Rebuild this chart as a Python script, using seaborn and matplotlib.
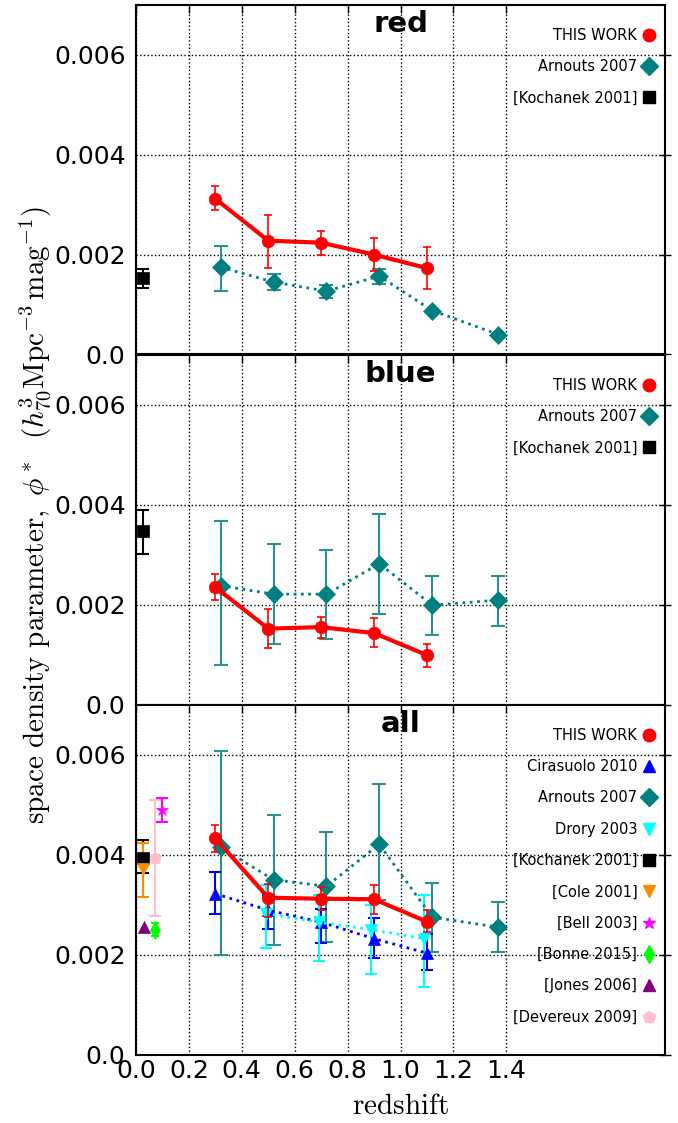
import numpy as np
import pandas as pd
import matplotlib
matplotlib.use("Agg")
import matplotlib.pyplot as plt
from matplotlib.lines import Line2D
import seaborn as sns

# ---------------- data ----------------
# THIS WORK
tw_z = [0.3, 0.5, 0.7, 0.9, 1.1]
tw_red = [0.00312, 0.00228, 0.00224, 0.00200, 0.00173]
tw_red_hi = [0.00337, 0.00280, 0.00248, 0.00233, 0.00215]
tw_red_lo = [0.00289, 0.00173, 0.00200, 0.00167, 0.00132]
tw_blue = [0.00235, 0.00152, 0.00155, 0.00143, 0.00099]
tw_blue_hi = [0.00261, 0.00191, 0.00176, 0.00173, 0.00122]
tw_blue_lo = [0.00210, 0.00113, 0.00133, 0.00115, 0.00075]
tw_all = [0.00433, 0.00314, 0.00312, 0.00311, 0.00266]
tw_all_hi = [0.00459, 0.00341, 0.00335, 0.00339, 0.00290]
tw_all_lo = [0.00405, 0.00275, 0.00289, 0.00282, 0.00245]

# Arnouts 2007
ar_z = [0.32, 0.52, 0.72, 0.92, 1.12, 1.37]
ar_red = [0.00175, 0.00145, 0.00127, 0.00157, 0.00088, 0.00040]
ar_red_hi = [0.00218, 0.00162, 0.00140, 0.00172, 0.00088, 0.00040]
ar_red_lo = [0.00127, 0.00130, 0.00114, 0.00142, 0.00088, 0.00040]
ar_blue = [0.00238, 0.00221, 0.00221, 0.00282, 0.00199, 0.00209]
ar_blue_hi = [0.00367, 0.00321, 0.00310, 0.00381, 0.00258, 0.00257]
ar_blue_lo = [0.00079, 0.00122, 0.00131, 0.00181, 0.00139, 0.00157]
ar_all = [0.00415, 0.00350, 0.00337, 0.00421, 0.00275, 0.00255]
ar_all_hi = [0.00607, 0.00479, 0.00445, 0.00541, 0.00343, 0.00305]
ar_all_lo = [0.00199, 0.00220, 0.00225, 0.00310, 0.00205, 0.00205]

# Cirasuolo 2010 (all)
ci_z = [0.3, 0.5, 0.7, 0.9, 1.1]
ci_all = [0.00322, 0.00289, 0.00265, 0.00232, 0.00203]
ci_all_hi = [0.00365, 0.00320, 0.00292, 0.00273, 0.00242]
ci_all_lo = [0.00281, 0.00252, 0.00224, 0.00194, 0.00170]

# Drory 2003 (all)
dr_z = [0.49, 0.69, 0.89, 1.09]
dr_all = [0.00282, 0.00265, 0.00250, 0.00232]
dr_all_hi = [0.00340, 0.00320, 0.00300, 0.00320]
dr_all_lo = [0.00213, 0.00187, 0.00161, 0.00135]

# Local measurements
ko_z = [0.025]
ko_red = [0.00153]; ko_red_hi = [0.00171]; ko_red_lo = [0.00133]
ko_blue = [0.00347]; ko_blue_hi = [0.00390]; ko_blue_lo = [0.00302]
ko_all = [0.00394]; ko_all_hi = [0.00430]; ko_all_lo = [0.00363]

cole_z = [0.025]; cole_all = [0.00372]; cole_hi = [0.00424]; cole_lo = [0.00315]
bell_z = [0.10]; bell_all = [0.00489]; bell_hi = [0.00513]; bell_lo = [0.00465]
bonne_z = [0.07]; bonne_all = [0.00250]; bonne_hi = [0.00264]; bonne_lo = [0.00237]
jones_z = [0.03]; jones_all = [0.00255]
dev_z = [0.07]; dev_all = [0.00393]; dev_hi = [0.00509]; dev_lo = [0.00277]

xticks = [0.0, 0.2, 0.4, 0.6, 0.8, 1.0, 1.2, 1.4]
xticklabels = ["0.0", "0.2", "0.4", "0.6", "0.8", "1.0", "1.2", "1.4"]
yticks = [0.0, 0.002, 0.004, 0.006]
yticklabels = ["0.0", "0.002", "0.004", "0.006"]
panel_titles = ["red", "blue", "all"]

# ---------------- style ----------------
sns.set_style("white")
plt.rcParams["font.family"] = ["DejaVu Sans"]
plt.rcParams["mathtext.fontset"] = "cm"
for k in ["text.color", "axes.labelcolor", "xtick.color", "ytick.color",
          "axes.edgecolor"]:
    plt.rcParams[k] = "black"

W, H = 678, 1123
fig = plt.figure(figsize=(W / 100, H / 100), dpi=100)
left = 136 / W
width = (665 - 136) / W
tops = [5, 355, 705]
ph = 349.5

axes = []
for t in tops:
    ax = fig.add_axes([left, 1 - (t + ph) / H, width, ph / H])
    axes.append(ax)

TEAL = "#008080"
TEAL_ERR = "#2a9090"


def series(ax, x, y, hi=None, lo=None, color="k", marker="o", ms=9, ls="none",
           lw=1.5, ecolor=None, capsize=4, elw=1.5, z=3):
    df = pd.DataFrame({"z": x, "phi": y})
    if hi is not None:
        yerr = [np.array(y) - np.array(lo), np.array(hi) - np.array(y)]
        ax.errorbar(x, y, yerr=yerr, fmt="none", ecolor=ecolor or color,
                    elinewidth=elw, capsize=capsize, capthick=elw, zorder=z)
    sns.lineplot(data=df, x="z", y="phi", ax=ax, color=color, marker=marker,
                 markersize=ms, markeredgecolor=color, markeredgewidth=0.5,
                 linestyle=ls if ls != "none" else "", linewidth=lw,
                 legend=False, sort=False, estimator=None, zorder=z + 0.5)


# red panel
ax = axes[0]
series(ax, ar_z, ar_red, ar_red_hi, ar_red_lo, color=TEAL, marker="D", ms=9,
       ls=":", lw=2, ecolor=TEAL_ERR, capsize=5, z=3)
series(ax, ko_z, ko_red, ko_red_hi, ko_red_lo, color="black", marker="s", ms=9,
       capsize=4, elw=1.5, z=3)
series(ax, tw_z, tw_red, tw_red_hi, tw_red_lo, color="red", marker="o", ms=9,
       ls="-", lw=3, capsize=3, elw=1.2, z=5)

# blue panel
ax = axes[1]
series(ax, ar_z, ar_blue, ar_blue_hi, ar_blue_lo, color=TEAL, marker="D", ms=9,
       ls=":", lw=2, ecolor=TEAL_ERR, capsize=5, z=3)
series(ax, ko_z, ko_blue, ko_blue_hi, ko_blue_lo, color="black", marker="s", ms=9,
       capsize=4, elw=1.5, z=3)
series(ax, tw_z, tw_blue, tw_blue_hi, tw_blue_lo, color="red", marker="o", ms=9,
       ls="-", lw=3, capsize=3, elw=1.2, z=5)

# all panel
ax = axes[2]
series(ax, ar_z, ar_all, ar_all_hi, ar_all_lo, color=TEAL, marker="D", ms=9,
       ls=":", lw=2, ecolor=TEAL_ERR, capsize=5, z=3)
series(ax, ci_z, ci_all, ci_all_hi, ci_all_lo, color="blue", marker="^", ms=9,
       ls=":", lw=2, capsize=4, z=3.2)
series(ax, dr_z, dr_all, dr_all_hi, dr_all_lo, color="cyan", marker="v", ms=9,
       ls=":", lw=2, capsize=4, z=3.4)
series(ax, dev_z, dev_all, dev_hi, dev_lo, color="pink", marker="p", ms=9,
       capsize=4, z=3)
series(ax, ko_z, ko_all, ko_all_hi, ko_all_lo, color="black", marker="s", ms=9,
       capsize=4, z=3.1)
series(ax, cole_z, cole_all, cole_hi, cole_lo, color="darkorange", marker="v", ms=9,
       capsize=4, z=3.2)
series(ax, bell_z, bell_all, bell_hi, bell_lo, color="magenta", marker="*", ms=9,
       capsize=4, z=3)
series(ax, bonne_z, bonne_all, bonne_hi, bonne_lo, color="lime", marker="d", ms=9,
       capsize=3, z=3)
series(ax, jones_z, jones_all, color="purple", marker="^", ms=9, z=3)
series(ax, tw_z, tw_all, tw_all_hi, tw_all_lo, color="red", marker="o", ms=9,
       ls="-", lw=3, capsize=3, elw=1.2, z=5)


def h(color, marker, ms=9):
    return Line2D([], [], color=color, marker=marker, linestyle="none",
                  markersize=ms, markeredgecolor=color)


leg_small = [
    (h("red", "o"), "THIS WORK"),
    (h(TEAL, "D", 9), "Arnouts 2007"),
    (h("black", "s"), "[Kochanek 2001]"),
]
leg_all = [
    (h("red", "o"), "THIS WORK"),
    (h("blue", "^"), "Cirasuolo 2010"),
    (h(TEAL, "D", 9), "Arnouts 2007"),
    (h("cyan", "v"), "Drory 2003"),
    (h("black", "s"), "[Kochanek 2001]"),
    (h("darkorange", "v"), "[Cole 2001]"),
    (h("magenta", "*"), "[Bell 2003]"),
    (h("lime", "d"), "[Bonne 2015]"),
    (h("purple", "^"), "[Jones 2006]"),
    (h("pink", "p"), "[Devereux 2009]"),
]

for i, ax in enumerate(axes):
    ax.set_xlim(0, 2.0)
    ax.set_ylim(0, 0.007)
    ax.set_xticks(xticks)
    ax.set_yticks(yticks)
    ax.set_yticklabels(yticklabels)
    if i == 2:
        ax.set_xticklabels(xticklabels)
    else:
        ax.set_xticklabels([])
    ax.set_xlabel("")
    ax.set_ylabel("")
    ax.tick_params(axis="both", which="both", direction="in", top=True,
                   right=True, length=6, width=1, labelsize=18, color="black",
                   labelcolor="black")
    ax.tick_params(axis="y", direction="inout", length=8)
    ax.grid(True, linestyle=":", color="black", linewidth=1.0)
    for sp in ax.spines.values():
        sp.set_color("black")
        sp.set_linewidth(1.5)
    ax.text(0.5, 0.985, panel_titles[i], transform=ax.transAxes, ha="center",
            va="top", fontsize=21, fontweight="bold", color="black")
    entries = leg_all if i == 2 else leg_small
    leg = ax.legend([e[0] for e in entries], [e[1] for e in entries],
                    loc="upper right", bbox_to_anchor=(1.0, 0.96), frameon=False,
                    markerfirst=False, fontsize=10.5, handlelength=1.0,
                    handletextpad=0.3, borderaxespad=0.4, borderpad=0.2,
                    labelspacing=1.12, numpoints=1)
    for t in leg.get_texts():
        t.set_color("black")

fig.text(35 / W, 1 - 515 / H,
         r"$\mathrm{space\ density\ parameter,}\ \phi^*\ \ (h_{70}^3\mathrm{Mpc}^{-3}\,\mathrm{mag}^{-1})$",
         rotation=90, ha="center", va="center", fontsize=21, color="black")
fig.text(400 / W, 1 - 1106 / H, r"$\mathrm{redshift}$", ha="center",
         va="center", fontsize=21, color="black")

fig.savefig("out.png", dpi=100)
